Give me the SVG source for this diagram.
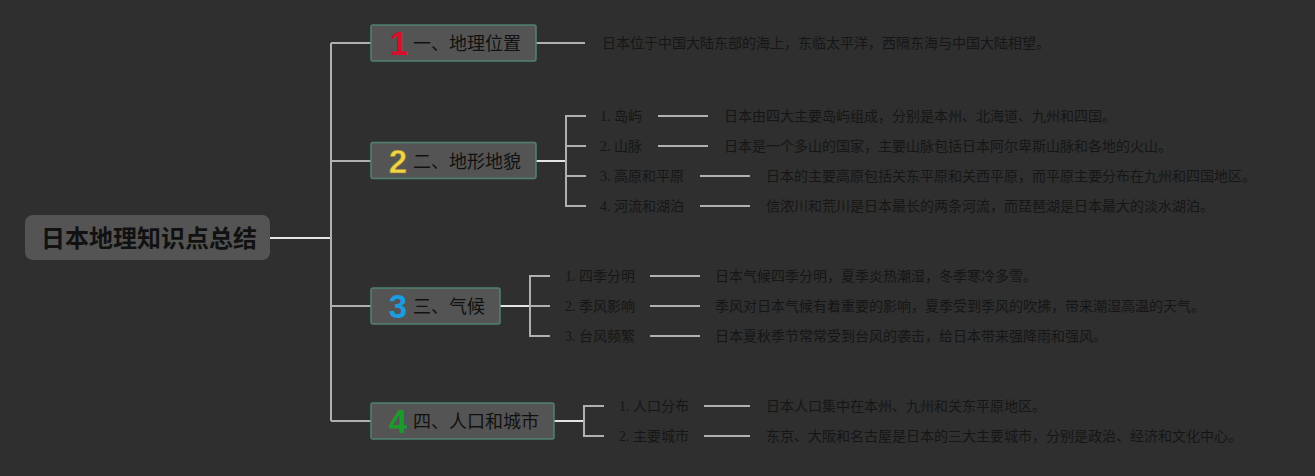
<svg xmlns="http://www.w3.org/2000/svg" width="1315" height="476" viewBox="0 0 1315 476">
<style>
.bg{fill:#2f2f2f}
.stem{stroke:#e4e4e4;stroke-width:2;fill:none}
.fork{stroke:#b0b0b0;stroke-width:2;fill:none}
.root{fill:#545454}
.br{fill:#545454;stroke:#4f8270;stroke-width:1.5}
.rt{font-family:"Noto Sans CJK SC","Liberation Sans",sans-serif;font-size:24px;font-weight:bold;fill:#111;text-anchor:middle}
.bt{font-family:"Noto Sans CJK SC","Liberation Sans",sans-serif;font-size:18px;fill:#111}
.num{font-family:"Liberation Sans","DejaVu Sans",sans-serif;font-size:33px;font-weight:bold;text-anchor:middle}
.lb{font-family:"Liberation Serif","Noto Sans CJK SC",serif;font-size:14px;fill:#161616}
.ds{font-family:"Noto Sans CJK SC","Liberation Sans",sans-serif;font-size:14px;fill:#161616}
</style>
<rect class="bg" x="0" y="0" width="1315" height="476"/>
<g id="connectors">
<path class="stem" d="M270 238H331"/>
<path class="fork" d="M331 43V421M331 43H371M331 161H371M331 306H371M331 421H371"/>
<path class="fork" d="M536 43H585"/>
<path class="stem" d="M536 161H566"/>
<path class="fork" d="M586 116H566V206H586M566 146H586M566 176H586"/>
<path class="fork" d="M658 116H708M658 146H708M700 176H750M700 206H750"/>
<path class="stem" d="M500 306H530"/>
<path class="fork" d="M550 276H530V336H550M530 306H550"/>
<path class="fork" d="M650 276H700M650 306H700M650 336H700"/>
<path class="stem" d="M554 421H584"/>
<path class="fork" d="M604 406H584V436H604"/>
<path class="fork" d="M704 406H750M704 436H750"/>
</g>
<g id="root">
<rect class="root" x="25" y="215" width="245" height="45" rx="8"/>
<text class="rt" x="149" y="247">日本地理知识点总结</text>
</g>
<g id="b1">
<rect class="br" x="371" y="25" width="165" height="36" rx="2"/>
<text class="num" x="399" y="55" fill="#d6102a">1</text>
<text class="bt" x="413" y="50">一、地理位置</text>
</g>
<g id="b2">
<rect class="br" x="371" y="142.5" width="165" height="36" rx="2"/>
<text class="num" x="398" y="173" fill="#f2d544" stroke="#8a7a30" stroke-width="0.6">2</text>
<text class="bt" x="413" y="168">二、地形地貌</text>
</g>
<g id="b3">
<rect class="br" x="371" y="288" width="129" height="36" rx="2"/>
<text class="num" x="398" y="318" fill="#1a9de0">3</text>
<text class="bt" x="413" y="313">三、气候</text>
</g>
<g id="b4">
<rect class="br" x="371" y="403" width="183" height="36" rx="2"/>
<text class="num" x="398" y="433" fill="#1c9a2c">4</text>
<text class="bt" x="413" y="428">四、人口和城市</text>
</g>
<g id="l1"><text class="ds" x="602" y="48">日本位于中国大陆东部的海上，东临太平洋，西隔东海与中国大陆相望。</text></g>
<g id="l2-1"><text class="lb" x="600" y="121">1. 岛屿</text><text class="ds" x="724" y="121">日本由四大主要岛屿组成，分别是本州、北海道、九州和四国。</text></g>
<g id="l2-2"><text class="lb" x="600" y="151">2. 山脉</text><text class="ds" x="724" y="151">日本是一个多山的国家，主要山脉包括日本阿尔卑斯山脉和各地的火山。</text></g>
<g id="l2-3"><text class="lb" x="600" y="181">3. 高原和平原</text><text class="ds" x="766" y="181">日本的主要高原包括关东平原和关西平原，而平原主要分布在九州和四国地区。</text></g>
<g id="l2-4"><text class="lb" x="600" y="211">4. 河流和湖泊</text><text class="ds" x="766" y="211">信浓川和荒川是日本最长的两条河流，而琵琶湖是日本最大的淡水湖泊。</text></g>
<g id="l3-1"><text class="lb" x="565" y="281">1. 四季分明</text><text class="ds" x="715" y="281">日本气候四季分明，夏季炎热潮湿，冬季寒冷多雪。</text></g>
<g id="l3-2"><text class="lb" x="565" y="311">2. 季风影响</text><text class="ds" x="715" y="311">季风对日本气候有着重要的影响，夏季受到季风的吹拂，带来潮湿高温的天气。</text></g>
<g id="l3-3"><text class="lb" x="565" y="341">3. 台风频繁</text><text class="ds" x="715" y="341">日本夏秋季节常常受到台风的袭击，给日本带来强降雨和强风。</text></g>
<g id="l4-1"><text class="lb" x="619" y="411">1. 人口分布</text><text class="ds" x="766" y="411">日本人口集中在本州、九州和关东平原地区。</text></g>
<g id="l4-2"><text class="lb" x="619" y="441">2. 主要城市</text><text class="ds" x="766" y="441">东京、大阪和名古屋是日本的三大主要城市，分别是政治、经济和文化中心。</text></g>
</svg>
